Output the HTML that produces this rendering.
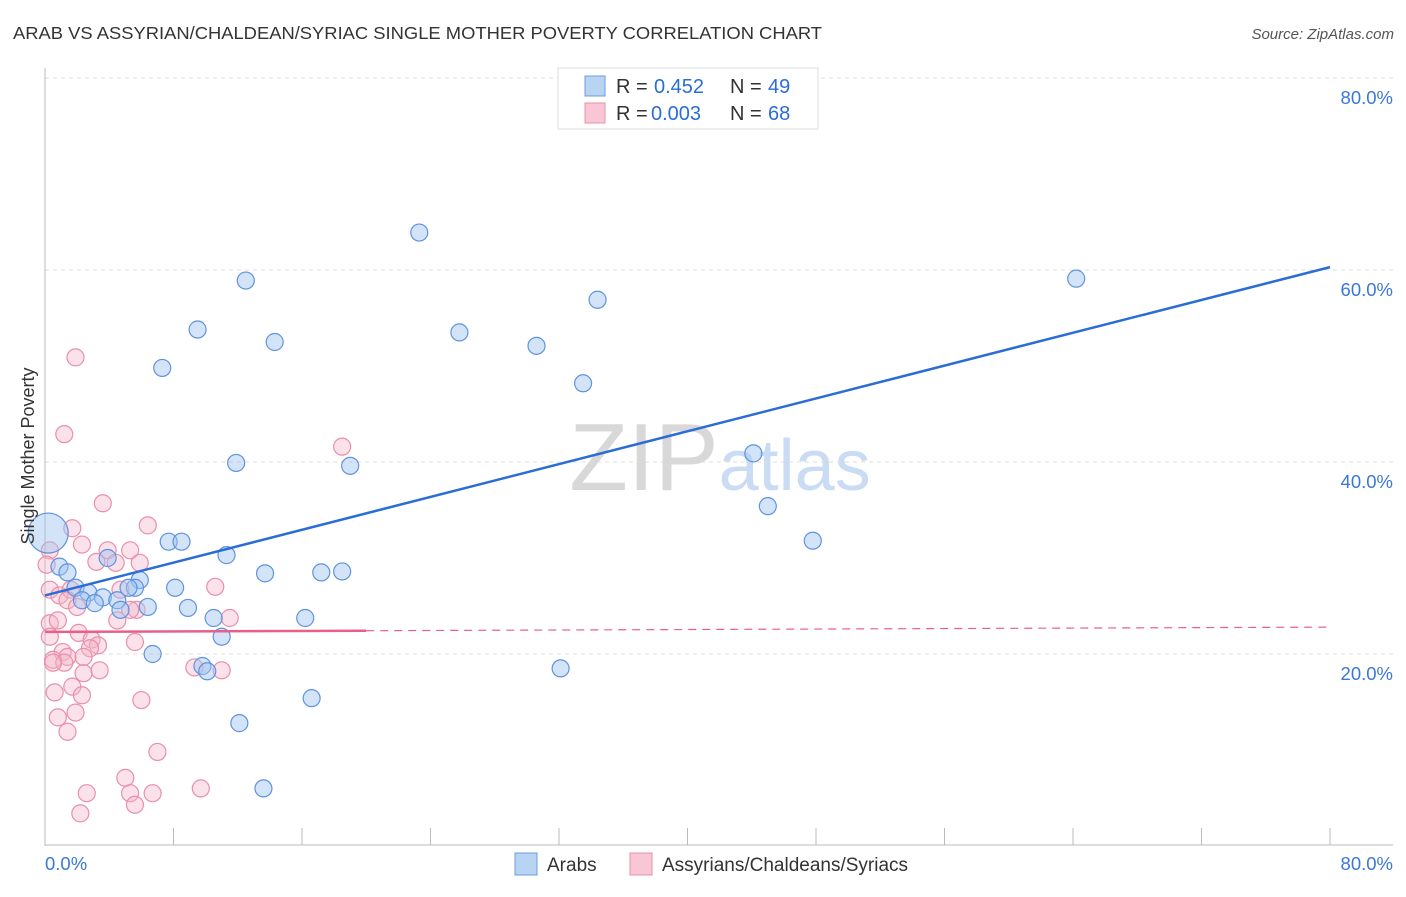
<!DOCTYPE html>
<html><head><meta charset="utf-8"><style>
body{margin:0;background:#fff;font-family:"Liberation Sans",sans-serif;}
svg text{font-family:"Liberation Sans",sans-serif;}
</style></head><body>
<svg id="chart" width="1406" height="892" xmlns="http://www.w3.org/2000/svg">
<text x="13" y="39" font-size="17.5" fill="#333" textLength="809" lengthAdjust="spacingAndGlyphs">ARAB VS ASSYRIAN/CHALDEAN/SYRIAC SINGLE MOTHER POVERTY CORRELATION CHART</text>
<text x="1394" y="39" font-size="15" fill="#555" text-anchor="end" font-style="italic">Source: ZipAtlas.com</text>
<text x="720" y="490" font-size="96" fill="#ddd" text-anchor="middle" font-family="Liberation Serif"><tspan fill="#d8d8d8">ZIP</tspan><tspan fill="#c9dcf3" font-family="Liberation Sans" font-size="72">atlas</tspan></text>
<g id="grid"></g>
<g id="axes"></g>
<g id="pts"></g>
<g id="lines"></g>
<text transform="translate(34,456) rotate(-90)" font-size="18" fill="#333" text-anchor="middle">Single Mother Poverty</text>
<g>
<rect x="558" y="68" width="260" height="61" fill="#fff" stroke="#ddd"/>
<rect x="585" y="76" width="20" height="20" fill="#b9d3f3" stroke="#6a9be0"/>
<text x="616" y="93" font-size="20" fill="#333">R =</text>
<text x="654" y="93" font-size="20" fill="#2a6dd6">0.452</text>
<text x="730" y="93" font-size="20" fill="#333">N =</text>
<text x="768" y="93" font-size="20" fill="#2a6dd6">49</text>
<rect x="585" y="103" width="20" height="20" fill="#f8c6d5" stroke="#e890aa"/>
<text x="616" y="120" font-size="20" fill="#333">R =</text>
<text x="651" y="120" font-size="20" fill="#2a6dd6">0.003</text>
<text x="730" y="120" font-size="20" fill="#333">N =</text>
<text x="768" y="120" font-size="20" fill="#2a6dd6">68</text>
</g>
<g>
<rect x="515" y="853" width="22" height="22" fill="#b9d3f3" stroke="#6a9be0"/>
<text x="547" y="871" font-size="19" fill="#333">Arabs</text>
<rect x="630" y="853" width="22" height="22" fill="#f8c6d5" stroke="#e890aa"/>
<text x="662" y="871" font-size="19" fill="#333">Assyrians/Chaldeans/Syriacs</text>
</g>
</svg>
<script>
const blueX=[23.3,12.5,64.2,34.4,9.5,25.8,14.3,30.6,7.3,33.5,44.1,11.9,19.0,45.0,47.8,7.7,8.5,11.3,3.9,13.7,17.2,18.5,0.9,1.4,5.9,5.6,5.2,8.1,1.9,2.7,3.6,2.3,3.1,4.5,6.4,4.7,8.9,10.5,16.2,11.0,6.7,9.8,10.1,32.1,16.6,12.1,13.6];
const blueY=[63.9,58.9,59.1,56.9,53.8,53.5,52.5,52.1,49.8,48.2,40.9,39.9,39.6,35.4,31.8,31.7,31.7,30.3,30.0,28.4,28.5,28.6,29.1,28.5,27.7,26.9,26.9,26.9,26.9,26.4,25.9,25.6,25.3,25.6,24.9,24.6,24.8,23.75,23.75,21.8,20.0,18.75,18.2,18.5,15.4,12.8,6.0];
const pinkX=[3.6,1.7,6.4,2.3,3.9,5.3,3.2,4.4,5.9,0.3,0.1,0.3,0.9,1.6,1.4,2.0,4.7,10.6,4.5,5.7,5.3,11.5,0.3,0.8,0.3,2.1,5.6,2.9,3.3,2.8,1.1,0.5,1.4,2.4,1.2,2.4,3.4,0.5,9.3,11.0,0.6,1.7,2.3,6.0,0.8,1.9,1.4,7.0,5.0,5.3,2.6,6.7,9.7,5.6,2.2,1.9,1.2,18.5];
const pinkY=[35.7,33.1,33.4,31.4,30.8,30.8,29.6,29.5,29.5,30.8,29.3,26.7,26.1,26.7,25.6,24.9,26.7,27.0,23.5,24.6,24.6,23.75,23.2,23.5,21.8,22.2,21.25,21.5,20.9,20.6,20.2,19.4,19.7,19.7,19.1,18.0,18.3,19.1,18.6,18.3,16.0,16.6,15.7,15.2,13.4,13.9,11.9,9.8,7.1,5.5,5.5,5.5,6.0,4.3,3.4,50.9,42.9,41.6];
const bigX=[0.2], bigY=[32.6];
const blueTrend=[26.1,60.3];
const pinkTrend=[22.3,22.8];
const pinkSolidEnd=20;
const yTicks=[20,40,60,80];
const xTickVals=[0,8,16,24,32,40,48,56,64,72,80];
const NS="http://www.w3.org/2000/svg";
const X=v=>45+v*1285/80, Y=v=>846-v*9.6;
function mk(tag,at,parent){const e=document.createElementNS(NS,tag);for(const k in at)e.setAttribute(k,at[k]);parent.appendChild(e);return e;}
const grid=document.getElementById('grid'),axes=document.getElementById('axes'),pts=document.getElementById('pts'),lines=document.getElementById('lines');
yTicks.forEach(t=>{
 const l=mk('line',{x1:45,x2:1393,y1:Y(t),y2:Y(t),stroke:'#ddd','stroke-dasharray':'4,4'},grid);
 
 
 const tx=mk('text',{x:1393,y:Y(t)+26,'font-size':18.5,fill:'#3a78d8','text-anchor':'end'},grid);
 tx.textContent=t.toFixed(1)+'%';
 
 
});
const ya=mk('line',{x1:45,x2:45,y1:68,y2:846,stroke:'#bbb'},axes);


const xa=mk('line',{x1:45,x2:1393,y1:845,y2:845,stroke:'#bbb'},axes);


xTickVals.forEach(t=>{
 const l=mk('line',{x1:X(t),x2:X(t),y1:828,y2:845,stroke:'#bbb'},axes);
 
 
});
[[0,'start',45],[80,'end',1393]].forEach(([v,a,px])=>{
 const tx=mk('text',{x:px,y:870,'font-size':18.5,fill:'#3a78d8','text-anchor':a},axes);
 tx.textContent=v.toFixed(1)+'%';
 
 
});
function dots(xs,ys,fill,stroke,name,r){xs.forEach((x,i)=>{
 const c=mk('circle',{cx:X(x),cy:Y(ys[i]),r:r,fill:fill,stroke:stroke,'stroke-width':1.2},pts);
 
 
});}
dots(pinkX,pinkY,'rgba(246,180,200,0.4)','#e98fab','point-assyrian',8.5);
dots(blueX,blueY,'rgba(160,196,240,0.45)','#5f93dd','point-arab',8.5);
dots(bigX,bigY,'rgba(160,196,240,0.45)','#5f93dd','point-arab-large',20);
const bl=mk('line',{x1:X(0),y1:Y(blueTrend[0]),x2:X(80),y2:Y(blueTrend[1]),stroke:'#2a6dd6','stroke-width':2.5},lines);


const pAt=v=>pinkTrend[0]+(pinkTrend[1]-pinkTrend[0])*v/80;
const ps=mk('line',{x1:X(0),y1:Y(pAt(0)),x2:X(pinkSolidEnd),y2:Y(pAt(pinkSolidEnd)),stroke:'#e8608a','stroke-width':2.5},lines);


const pd=mk('line',{x1:X(pinkSolidEnd),y1:Y(pAt(pinkSolidEnd)),x2:X(80),y2:Y(pAt(80)),stroke:'#e8608a','stroke-width':1.2,'stroke-dasharray':'8,6'},lines);


</script>
</body></html>
